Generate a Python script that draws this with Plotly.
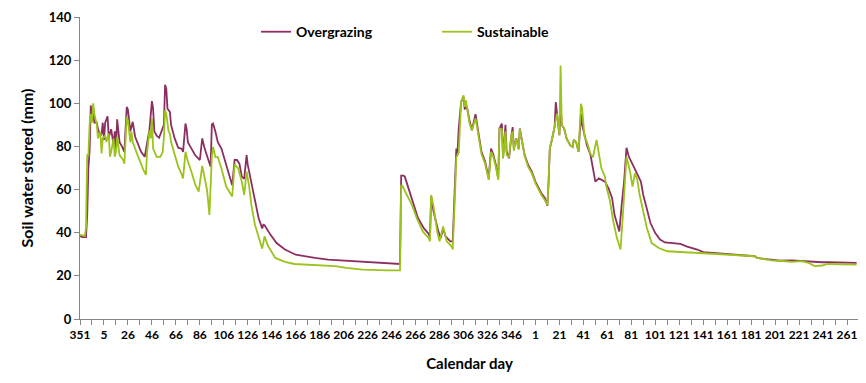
import plotly.graph_objects as go

# Calendar-day tick labels (one every 20 days along the series)
day_labels = ["351", "5", "26", "46", "66", "86", "106", "126", "146", "166", "186",
              "206", "226", "246", "266", "286", "306", "326", "346", "1", "21", "41",
              "61", "81", "101", "121", "141", "161", "181", "201", "221", "241", "261"]
label_step = 20

# Overgrazing: day offset from first day, soil water stored (mm)
over_day = [0, 2, 4, 5, 6, 7, 8, 9, 10, 11, 12, 14, 15, 17, 18, 19, 20, 21, 23, 24, 26, 28, 29, 30,
            31, 33, 35, 37, 39, 40, 42, 44, 46, 49, 51, 54, 56, 58, 60, 61, 62, 64, 66, 68, 70, 71,
            72, 73, 75, 76, 79, 82, 85, 86, 88, 89, 90, 93, 96, 100, 102, 104, 108, 109, 110, 111,
            113, 115, 118, 121, 124, 127, 129, 131, 133, 135, 137, 139, 140, 143, 146, 149, 152,
            153, 154, 159, 164, 171, 180, 188, 196, 207, 236, 267, 268, 270, 271, 274, 278, 282,
            287, 291, 292, 293, 295, 299, 301, 303, 305, 309, 311, 312, 314, 315, 316, 318, 320,
            321, 323, 325, 327, 330, 331, 333, 335, 338, 340, 341, 343, 345, 347, 349, 350, 352,
            353, 355, 356, 358, 360, 361, 362, 364, 366, 367, 369, 371, 374, 377, 380, 382, 385,
            388, 390, 391, 392, 394, 396, 397, 398, 400, 401, 402, 404, 406, 409, 411, 412, 414,
            416, 418, 419, 421, 423, 426, 428, 430, 433, 438, 441, 444, 446, 450, 452, 454, 456,
            458, 462, 465, 468, 470, 473, 476, 480, 484, 488, 501, 506, 515, 520, 531, 547, 563,
            565, 577, 584, 594, 602, 608, 613, 619, 625, 645, 648]
over_val = [38.5, 38, 38, 38, 48, 70, 78, 99, 93, 96, 91, 91, 88, 85, 86, 91, 83, 91, 94, 84, 88,
            80.6, 87, 79, 92.6, 82, 80, 77.5, 98.3, 97, 87, 91.4, 84.5, 80.6, 77.5, 75.2, 82, 88,
            101, 97.5, 87, 85, 84, 87, 90, 108.6, 106.8, 97.5, 96, 90, 83.7, 79.4, 78.8, 77.5,
            90.6, 88, 82, 79, 76, 73.7, 83.7, 79, 71.4, 70.6, 90.2, 90.6, 86.8, 82, 79, 73, 66.8,
            62, 73.7, 73.7, 72, 66, 65, 76, 71.4, 63.7, 54.5, 46.8, 42, 43.7, 43.5, 39, 35.2, 32.2,
            29.8, 29, 28.3, 27.5, 26.5, 25.5, 66.5, 66.5, 66, 60.6, 52.9, 46.8, 42, 39.4, 37.5,
            56.8, 49.8, 40.6, 37.5, 42, 38.3, 36, 36, 51.4, 79, 77, 88.3, 100.6, 103, 97.5, 98,
            92, 87.5, 95, 91.4, 83.7, 77.5, 73, 67.5, 65.2, 79, 76, 71.4, 65.2, 88.3, 90.6, 74.5,
            90, 77.5, 74.5, 85.2, 89, 79, 83.7, 79, 88.3, 82, 76, 71.4, 68.3, 63.7, 61.4, 58.3,
            56, 52.5, 63.7, 79, 83.7, 89, 100.6, 95.2, 85.2, 99.8, 89.8, 88.3, 83.7, 80.6, 79.8,
            83, 82, 77.5, 95, 90, 84.5, 80.6, 76, 70.6, 63.7, 65.2, 63.7, 60.6, 56, 48.3, 40.6,
            53, 63.7, 79.4, 75.2, 70.6, 67.5, 63.7, 57.5, 51.4, 44.5, 39.8, 36.8, 35.5, 34.8,
            33.7, 32.2, 31, 30.6, 29.8, 29.1, 28.3, 27.5, 27, 27.2, 26.8, 26.8, 26.5, 26.3, 26.3,
            26.3, 26]

# Sustainable: day offset from first day, soil water stored (mm)
sust_day = [0, 4, 5, 6, 7, 8, 9, 10, 11, 12, 14, 15, 17, 18, 19, 21, 22, 24, 25, 26, 28, 29, 30,
            31, 33, 36, 37, 39, 40, 42, 43, 44, 47, 50, 53, 55, 56, 58, 59, 60, 61, 64, 67, 69,
            70, 71, 72, 74, 75, 76, 79, 82, 85, 86, 88, 89, 90, 93, 96, 99, 102, 106, 108, 110,
            111, 113, 115, 118, 122, 127, 129, 132, 135, 137, 139, 141, 143, 146, 150, 152, 154,
            157, 163, 171, 179, 196, 213, 222, 236, 256, 267, 268, 269, 272, 277, 281, 286, 291,
            292, 293, 295, 298, 300, 303, 306, 310, 311, 313, 314, 316, 317, 318, 320, 321, 322,
            325, 327, 330, 331, 333, 335, 338, 340, 341, 343, 345, 347, 349, 350, 352, 353, 355,
            356, 358, 360, 361, 362, 364, 366, 367, 369, 371, 374, 377, 380, 382, 385, 388, 390,
            391, 392, 394, 396, 397, 398, 400, 401, 402, 404, 406, 409, 411, 412, 414, 416, 418,
            419, 421, 423, 426, 428, 431, 435, 438, 439, 442, 445, 448, 451, 453, 455, 456, 459,
            461, 463, 465, 467, 470, 473, 477, 483, 490, 506, 528, 551, 563, 565, 577, 584, 594,
            602, 608, 613, 619, 624, 645, 648]
sust_val = [39, 38.5, 42, 76, 76, 90, 95, 91, 100, 95, 90, 83.7, 86.8, 76.8, 83.7, 85, 82, 86,
            75.2, 77.5, 83.7, 75.2, 77.5, 84.5, 76, 73.7, 72, 93.7, 92, 82, 86.8, 82, 77.5, 73,
            69, 66.8, 77.5, 87.5, 83.7, 93, 79, 75.2, 75.2, 77.5, 84, 96.8, 95, 86.8, 86, 82, 76,
            70.6, 66.8, 65.2, 77.5, 75.2, 73, 68.3, 62.5, 59, 71, 59.8, 48.3, 75, 79.8, 75, 75,
            69.8, 61.4, 56.8, 71.7, 69.8, 63.7, 57.5, 68.3, 62, 52.9, 43.7, 36, 32.6, 38.3, 33.7,
            28.3, 26.5, 25.5, 24.9, 24.5, 23.7, 22.9, 22.5, 22.5, 61.8, 61.8, 58.3, 52.9, 46.8,
            40.6, 37.5, 36, 57.5, 52.2, 40.6, 36, 42.9, 36, 33.7, 32.2, 59, 75, 77, 91.4, 100.6,
            103.7, 98.3, 101.4, 90.6, 87.5, 93, 90, 83, 76.5, 72, 66.5, 64.5, 77.5, 75, 70.5, 64.5,
            88.3, 88, 74.5, 87, 76, 75, 85.2, 87, 78, 83.7, 78.5, 88, 82, 75.5, 70.5, 67.5, 63,
            60.5, 57.5, 55, 52.9, 63.7, 79, 83.7, 89, 91.4, 95.2, 85.2, 117.5, 89.8, 88.3, 83.7,
            80.6, 79.8, 83, 82, 77.5, 99.8, 97.5, 84.5, 82, 76.5, 75, 83, 70, 66, 62, 55.2, 45.2,
            37.5, 32.2, 48.3, 63.7, 75.2, 68.3, 61.4, 67.5, 64.5, 57.5, 49.8, 42.2, 35.2, 32.9,
            31.4, 30.9, 30.5, 29.8, 29.1, 28.3, 27.2, 27, 26.5, 26.8, 26, 24.5, 24.8, 25.5, 25.5,
            25.2]

FONT = "Lato, 'Open Sans', sans-serif"
AXIS_GREY = "#868686"

fig = go.Figure()
fig.add_trace(go.Scatter(x=over_day, y=over_val, mode="lines", name="Overgrazing",
                         line=dict(color="#8B2F60", width=1.8)))
fig.add_trace(go.Scatter(x=sust_day, y=sust_val, mode="lines", name="Sustainable",
                         line=dict(color="#9BC31C", width=1.8)))

tickvals = [i * label_step for i in range(len(day_labels))]

# The page body adds an 8px offset, so the figure is sized 8px smaller on each axis
fig.update_layout(
    width=858, height=375,
    margin=dict(l=72, r=7, t=9, b=64, autoexpand=False),
    paper_bgcolor="white", plot_bgcolor="white",
    font=dict(family=FONT, color="black"),
    showlegend=True,
    legend=dict(orientation="h", xref="paper", yref="paper",
                x=0.226, y=0.95, xanchor="left", yanchor="middle",
                entrywidth=136, entrywidthmode="pixels",
                font=dict(family=FONT, size=14, weight="bold"),
                bgcolor="rgba(0,0,0,0)"),
    xaxis=dict(range=[0, 650], tickvals=tickvals, ticktext=day_labels,
               showgrid=False, zeroline=False, showline=True, linecolor=AXIS_GREY,
               linewidth=1, ticks="outside", ticklen=5, tickcolor=AXIS_GREY,
               ticklabeloverflow="allow",
               tickfont=dict(family=FONT, size=12, weight="bold"),
               minor=dict(tick0=0, dtick=10, ticks="outside", ticklen=5, tickcolor=AXIS_GREY),
               title=dict(text="Calendar day", standoff=17,
                          font=dict(family=FONT, size=15, weight="bold"))),
    yaxis=dict(range=[0, 140], dtick=20, showgrid=False, zeroline=False, showline=True,
               linecolor=AXIS_GREY, linewidth=1, ticks="outside", ticklen=5,
               ticklabeloverflow="allow",
               tickcolor=AXIS_GREY, tickfont=dict(family=FONT, size=13, weight="bold"),
               title=dict(text="Soil water stored (mm)", standoff=11,
                          font=dict(family=FONT, size=16, weight="bold"))),
)

fig.write_html("out.html")
